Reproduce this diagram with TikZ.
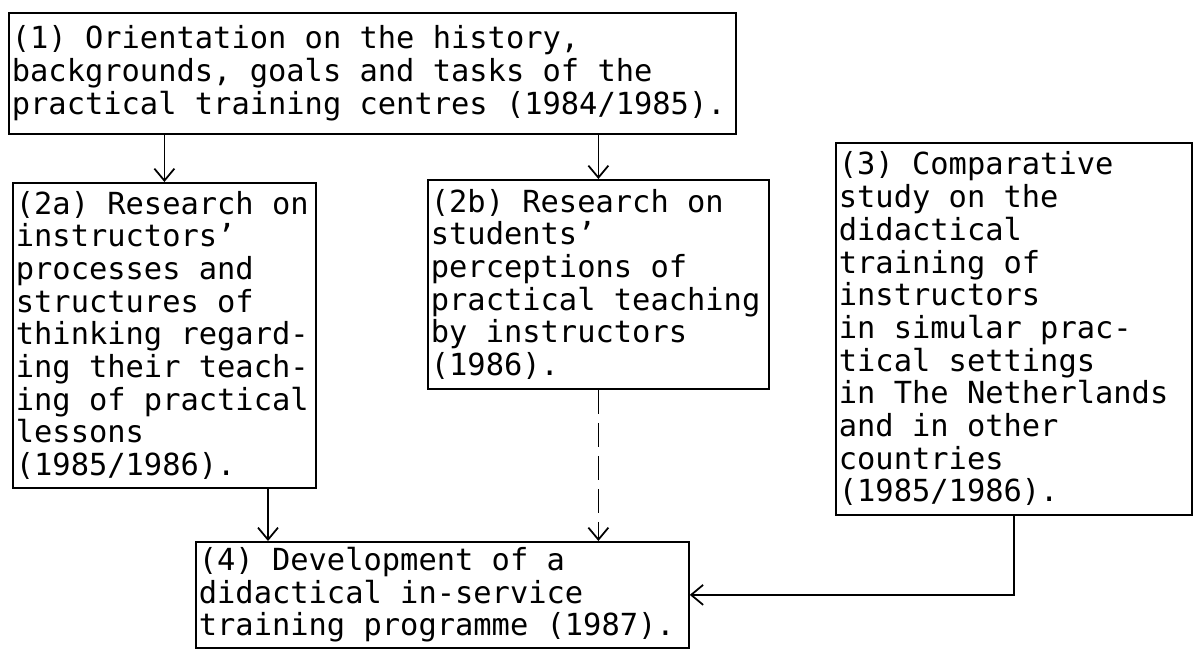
\documentclass[tikz,border=0pt]{standalone}
\usepackage{fontspec}
\setmainfont{DejaVu Sans Mono}
\usepackage{tikz}
\usetikzlibrary{arrows.meta,calc}
\newcommand\studyfont{\fontsize{17.3pt}{18.6pt}\selectfont}
\newcommand\studyspace{\spaceskip=0.602em\xspaceskip=0.602em\relax}
\tikzstyle{study}=[draw=black, anchor=north west, align=left, inner xsep=0.6mm, inner ysep=0.5mm, font=\studyfont, execute at begin node=\studyspace]
\tikzstyle{flow}=[-{Straight Barb[length=2.4mm,width=4mm]}]

\begin{document}
\begin{tikzpicture}[line width=1pt]
			\useasboundingbox (0,0) rectangle (23.88,12.98);
			\node[study, text width=14.42cm, minimum height=2.42cm] (s1) at (0.16,12.74) {(1) Orientation on the history,\\ backgrounds, goals and tasks of the\\ practical training centres (1984/1985).};
			\node[study, text width=5.94cm, minimum height=6.10cm] (s2a) at (0.24,9.34) {(2a) Research on\\ instructors'\\ processes and\\ structures of\\ thinking regard-\\ ing their teach-\\ ing of practical\\ lessons\\ (1985/1986).};
			\node[study, text width=6.70cm, minimum height=4.18cm] (s2b) at (8.54,9.40) {(2b) Research on\\ students'\\ perceptions of\\ practical teaching\\ by instructors\\ (1986).};
			\node[study, text width=7.00cm, minimum height=7.44cm] (s3) at (16.70,10.14) {(3) Comparative\\ study on the\\ didactical\\ training of\\ instructors\\ in simular prac-\\ tical settings\\ in The Netherlands\\ and in other\\ countries\\ (1985/1986).};
			\node[study, text width=9.74cm, minimum height=2.12cm] (s4) at (3.90,2.16) {(4) Development of a\\ didactical in-service\\ training programme (1987).};
			\coordinate (s2aout) at ($(s2a.south)!0.68!(s2a.south east)$);
			\path[draw=black, flow]
				(s1.south -| s2a.north) -- (s2a.north);
			\path[draw=black, flow]
				(s1.south -| s2b.north) -- (s2b.north);
			\path[draw=black, flow]
				(s2aout) -- (s2aout |- s4.north);
			\path[draw=black, flow, dash pattern=on 0.48cm off 0.18cm]
				(s2b.south) -- (s2b.south |- s4.north);
			\path[draw=black, flow]
				(s3.south) |- (s4.east);
		\end{tikzpicture}
\end{document}
